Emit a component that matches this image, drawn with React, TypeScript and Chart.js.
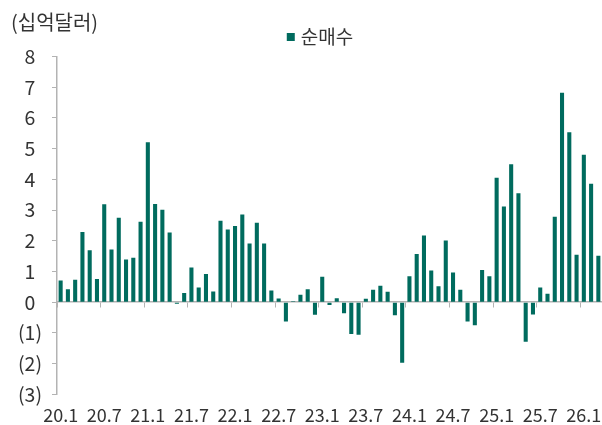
import React, { useEffect, useRef } from "react";
import { Chart, registerables } from "chart.js";

Chart.register(...registerables);

const FONT = "'Noto Sans CJK KR', 'Noto Sans', sans-serif";

const unitLabel = "(십억달러)";
const seriesName = "순매수";

const startYear = 20;
const v2020 = [0.71, 0.42, 0.73, 2.29, 1.69, 0.76, 3.19, 1.72, 2.75, 1.39, 1.45, 2.62];
const v2021 = [5.21, 3.2, 3.01, 2.27, -0.05, 0.3, 1.13, 0.48, 0.92, 0.35, 2.65, 2.37];
const v2022 = [2.48, 2.86, 1.91, 2.59, 1.91, 0.38, 0.12, -0.63, 0.03, 0.24, 0.42, -0.41];
const v2023 = [0.83, -0.09, 0.13, -0.36, -1.03, -1.06, 0.11, 0.41, 0.54, 0.34, -0.42, -1.97];
const v2024 = [0.85, 1.57, 2.17, 1.03, 0.52, 2.01, 0.97, 0.41, -0.63, -0.75, 1.05, 0.85];
const v2025 = [4.05, 3.12, 4.49, 3.55, -1.29, -0.4, 0.48, 0.28, 2.78, 6.82, 5.53, 1.55];
const v2026 = [4.8, 3.86, 1.51];

const values = [...v2020, ...v2021, ...v2022, ...v2023, ...v2024, ...v2025, ...v2026];
const categories = values.map((_, i) => `${startYear + Math.floor(i / 12)}.${(i % 12) + 1}`);

const yMin = -3;
const yMax = 8;
const labelEvery = 6;

const BAR = "#006B5E";
const AXIS = "#b3b3b3";
const TEXT = "#333333";

const PAD_LEFT = 37;
const AXIS_W = 20;

const titlePlugin = {
  id: "unitTitle",
  afterDraw(chart: any) {
    const ctx = chart.ctx;
    ctx.save();
    ctx.font = `20px ${FONT}`;
    ctx.fillStyle = TEXT;
    ctx.textBaseline = "middle";
    ctx.textAlign = "left";
    ctx.fillText(unitLabel, 11, 22);
    ctx.restore();
  },
};

export default function App() {
  const ref = useRef<HTMLCanvasElement | null>(null);
  useEffect(() => {
    if (!ref.current) return;
    const chart = new Chart(ref.current, {
      type: "bar",
      data: {
        labels: categories,
        datasets: [
          {
            label: seriesName,
            data: values,
            backgroundColor: BAR,
            borderWidth: 0,
            barPercentage: 0.56,
            categoryPercentage: 1,
            xAxisID: "x",
            yAxisID: "y",
          },
        ],
      },
      options: {
        animation: false,
        responsive: false,
        maintainAspectRatio: false,
        layout: { padding: { left: PAD_LEFT, right: -4.5, top: 17.5, bottom: -11 } },
        plugins: {
          title: { display: false },
          tooltip: { enabled: false },
          legend: {
            display: true,
            position: "top",
            labels: {
              usePointStyle: true,
              pointStyle: "rect",
              boxWidth: 1,
              boxHeight: 8,
              color: TEXT,
              font: { family: FONT, size: 19 },
              padding: 10,
            },
          },
        },
        scales: {
          x: {
            type: "category",
            position: { y: 0 } as any,
            offset: true,
            ticks: { display: false },
            border: { display: true, color: AXIS, width: 1.5 },
            grid: {
              display: true,
              offset: true,
              drawOnChartArea: false,
              drawTicks: true,
              tickLength: 5,
              lineWidth: 1,
              color: (ctx: any) => (ctx.index % labelEvery === 0 ? AXIS : "rgba(0,0,0,0)"),
            },
          },
          x2: {
            type: "category",
            position: "bottom",
            offset: true,
            border: { display: false },
            grid: { display: false, drawTicks: false },
            ticks: {
              autoSkip: false,
              maxRotation: 0,
              minRotation: 0,
              padding: 10,
              color: TEXT,
              font: { family: FONT, size: 18 },
              callback: (_v: any, i: number) => (i % labelEvery === 0 ? categories[i] : ""),
            },
            afterFit: (scale: any) => {
              scale.paddingRight = 0;
            },
          },
          y: {
            min: yMin,
            max: yMax,
            position: "left",
            border: { display: true, color: AXIS, width: 1.5 },
            grid: {
              display: true,
              drawOnChartArea: false,
              drawTicks: true,
              tickLength: 5,
              color: AXIS,
            },
            ticks: {
              stepSize: 1,
              padding: 10,
              crossAlign: "center",
              color: TEXT,
              font: { family: FONT, size: 19.5 },
              callback: (v: any) => (Number(v) < 0 ? `(${-Number(v)})` : `${v}`),
            },
            afterFit: (scale: any) => {
              scale.width = AXIS_W;
              scale._computeLabelArea = () => undefined;
            },
          },
        },
      },
      plugins: [titlePlugin],
    });
    return () => chart.destroy();
  }, []);
  return (
    <div style={{ position: "fixed", left: 0, top: 0, width: 602, height: 425 }}>
      <canvas ref={ref} width={602} height={425} />
    </div>
  );
}
